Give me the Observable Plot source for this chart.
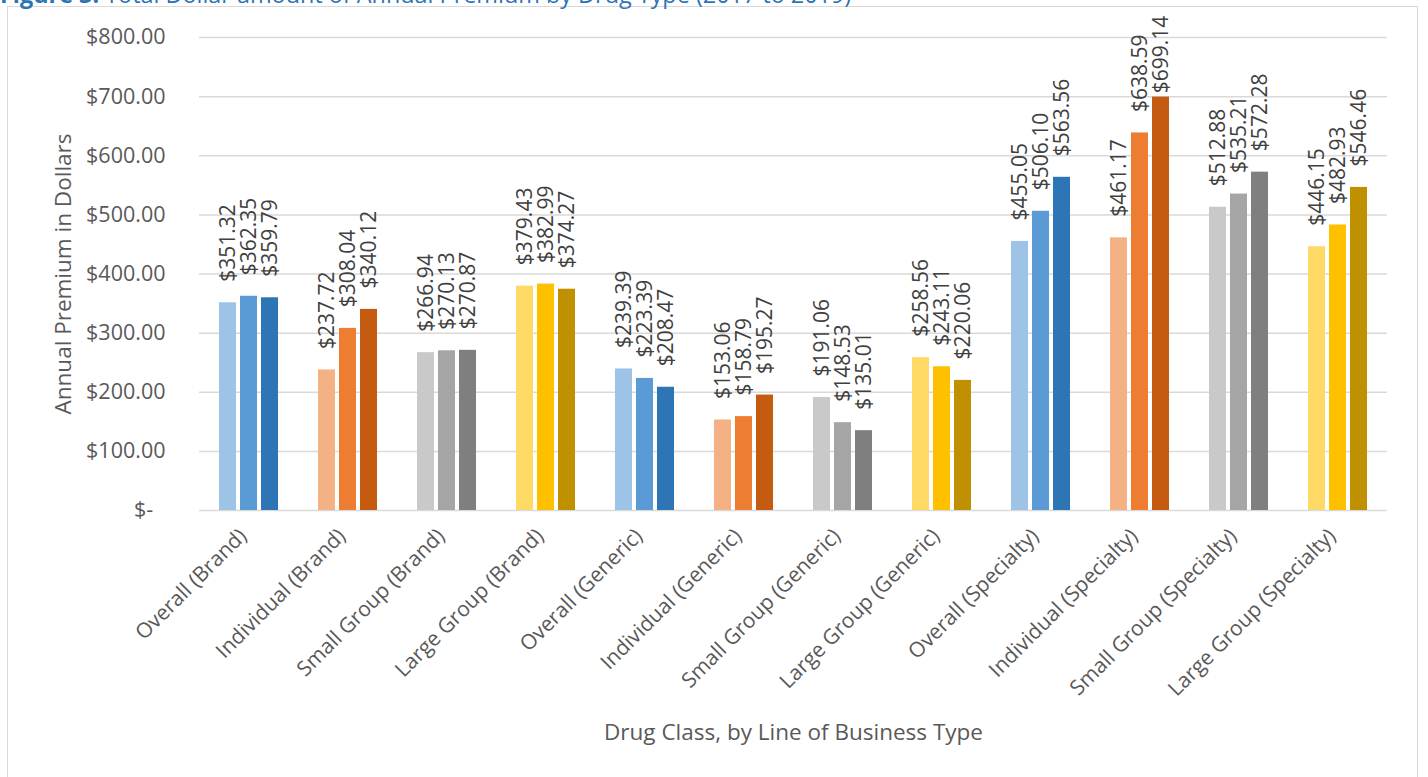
<!DOCTYPE html>
<html><head><meta charset="utf-8">
<script src="https://cdn.jsdelivr.net/npm/d3@7"></script>
<script src="https://cdn.jsdelivr.net/npm/@observablehq/plot@0.6"></script>
<style>
body{margin:0;background:#fff;font-family:"Open Sans",sans-serif;overflow:hidden}
#wrap{position:relative;width:1428px;height:777px;overflow:hidden}
#title{position:absolute;left:0;top:-22px;font-size:23.4px;line-height:normal;color:#2E74B5;white-space:nowrap}
#frame{position:absolute;left:7px;top:6px;width:1411px;height:800px;border:1px solid #D9D9D9;box-sizing:border-box}
#chart{position:absolute;left:0;top:0}
</style></head><body>
<div id="wrap">
<div id="frame"></div>
<div id="title"><b>Figure 3.</b> Total Dollar amount of Annual Premium by Drug Type (2017 to 2019)</div>
<div id="chart"></div>
</div>
<script>
const categories = ["Overall (Brand)","Individual (Brand)","Small Group (Brand)","Large Group (Brand)",
  "Overall (Generic)","Individual (Generic)","Small Group (Generic)","Large Group (Generic)",
  "Overall (Specialty)","Individual (Specialty)","Small Group (Specialty)","Large Group (Specialty)"];
const years = ["2017","2018","2019"];
const premium2017 = [351.32,237.72,266.94,379.43,239.39,153.06,191.06,258.56,455.05,461.17,512.88,446.15];
const premium2018 = [362.35,308.04,270.13,382.99,223.39,158.79,148.53,243.11,506.10,638.59,535.21,482.93];
const premium2019 = [359.79,340.12,270.87,374.27,208.47,195.27,135.01,220.06,563.56,699.14,572.28,546.46];
const yTicks = [0,100,200,300,400,500,600,700,800];
const yTitle = "Annual Premium in Dollars";
const xTitle = "Drug Class, by Line of Business Type";
const overallColors = ["#9DC3E6","#5B9BD5","#2E75B6"];
const individualColors = ["#F4B183","#ED7D31","#C55A11"];
const smallGroupColors = ["#C9C9C9","#A5A5A5","#7F7F7F"];
const largeGroupColors = ["#FFD966","#FFC000","#BF9000"];

const series = [premium2017, premium2018, premium2019];
const palettes = [overallColors, individualColors, smallGroupColors, largeGroupColors];
const rows = categories.flatMap((c, i) => years.map((y, j) => ({
  category: c, year: y, value: series[j][i], color: palettes[i % 4][j]
})));
const labelCeiling = 670;
const money = v => "$" + v.toFixed(2);

const chart = Plot.plot({
  width: 1428, height: 777,
  marginTop: 37, marginBottom: 267, marginLeft: 194, marginRight: 36,
  style: {fontFamily: "Open Sans", fontSize: "20px", color: "#595959", background: "transparent"},
  fx: {domain: categories, padding: 0, axis: null},
  x: {domain: years, paddingInner: 4/22, paddingOuter: 0.86, axis: null},
  y: {domain: [0, 800], axis: null},
  color: {type: "identity"},
  marks: [
    Plot.ruleY(yTicks, {stroke: "#D9D9D9", strokeWidth: 1.5}),
    Plot.barY(rows, {fx: "category", x: "year", y: "value", fill: "color"}),
    Plot.text(rows, {fx: "category", x: "year", y: d => Math.min(d.value, labelCeiling),
      text: d => money(d.value), rotate: -90, textAnchor: "start", dy: -21,
      fill: "#404040", fontSize: 21}),
    Plot.axisY({ticks: yTicks, tickSize: 0, tickPadding: 34, fontSize: 21.5, fill: "#595959",
      tickFormat: d => d === 0 ? "$-\u2007" : money(d), label: null}),
    Plot.text([yTitle], {fx: () => categories[0], frameAnchor: "left", rotate: -90, dx: -136,
      textAnchor: "middle", text: d => d, fontSize: 22.5, fill: "#595959"}),
    Plot.axisFx({anchor: "bottom", tickRotate: -45, tickSize: 0, tickPadding: 22, dx: -6, fontSize: 21,
      fill: "#595959", label: null}),
    Plot.axisFx({anchor: "bottom", ticks: [], tickSize: 0, fontSize: 22.5,
      fill: "#595959", label: xTitle, labelAnchor: "center", labelOffset: 229})
  ]
});
document.getElementById("chart").appendChild(chart);
</script>
</body></html>
